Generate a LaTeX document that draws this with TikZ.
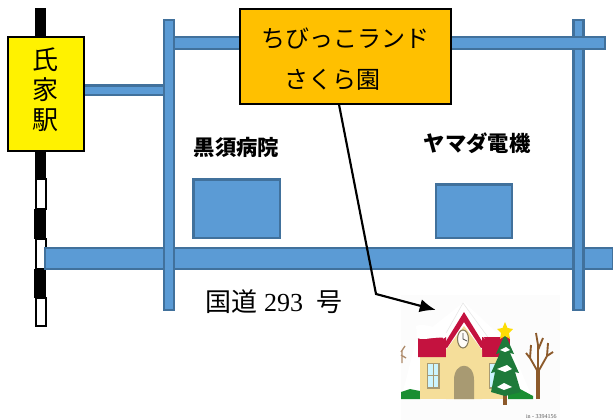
\documentclass[tikz,border=0pt]{standalone}
\usepackage{fontspec}
\setmainfont{Liberation Serif}
\newfontfamily\cjk{Noto Sans CJK JP}
\definecolor{road}{HTML}{5B9BD5}
\definecolor{roadedge}{HTML}{41719C}
\definecolor{orangebox}{HTML}{FFC000}
\definecolor{roofred}{HTML}{C4123F}
\definecolor{wallc}{HTML}{F5DE9A}
\definecolor{doorc}{HTML}{A89A72}
\definecolor{treeg}{HTML}{1E7A3A}
\definecolor{trunkc}{HTML}{8C5A2B}
\tikzset{
  roadbar/.style={fill=road,draw=roadedge,line width=1.6pt},
  stationbox/.style={draw=black,line width=0.8pt,fill=yellow,minimum width=57pt,minimum height=85.5pt,inner sep=0pt,align=center},
  nurserybox/.style={draw=black,line width=0.8pt,fill=orangebox,minimum width=158.25pt,minimum height=71.25pt,inner sep=0pt},
  labeltext/.style={inner sep=0pt,font=\cjk\bfseries\fontsize{16}{18}\selectfont},
  bigtext/.style={inner sep=0pt,font=\cjk\fontsize{18}{20}\selectfont},
  stationtext/.style={inner sep=0pt,font=\cjk\fontsize{19.5}{20}\selectfont},
  railwhite/.style={fill=white,draw=black,line width=1.6pt},
  arrowline/.style={draw=black,line width=1.6pt,-{Latex[length=12pt,width=10pt]}},
}
\usetikzlibrary{arrows.meta}
\begin{document}
\begin{tikzpicture}[x=0.75pt,y=-0.75pt]
\useasboundingbox (0,0) rectangle (613,420);
% railway
\foreach \a/\b in {179/209,239/269,298/326}{\draw[railwhite] (36,\a) rectangle (46,\b);}
\fill[black] (35,8) rectangle (46,40);
\fill[black] (35,150) rectangle (46,179);
\fill[black] (33.5,209) rectangle (46,239);
\fill[black] (33.5,269) rectangle (46,298);
% roads
\draw[roadbar] (45,248) rectangle (613,269);
\draw[roadbar] (573.5,20) rectangle (583.5,310);
\draw[roadbar] (173,37) rectangle (605,49);
\draw[roadbar] (84,85.5) rectangle (164,95);
\draw[roadbar] (164,20) rectangle (174,310);
\fill[white] (175,115) rectangle (192,168);
% buildings
\draw[roadbar] (193.5,179.5) rectangle (280,238);
\draw[roadbar] (436,184.5) rectangle (512,238);
% boxes
\node[stationbox] (station) at (46,94) {};
\node[stationtext] (l1) at (45.5,60) {氏};
\node[stationtext] (l2) at (45.5,90) {家};
\node[stationtext] (l3) at (45.5,120) {駅};
\node[nurserybox] (nursery) at (345.5,56.5) {};
\node[bigtext] (n1) at (345.5,38) {ちびっこランド};
\node[bigtext] (n2) at (332.5,80) {さくら園};
\node[labeltext] (hospital) at (236.5,147) {黒須病院};
\node[labeltext] (yamada) at (477,143) {ヤマダ電機};
\node[inner sep=0pt,font=\fontsize{19.5}{20}\selectfont] (route) at (274,302) {{\cjk 国道}\hspace{5pt}293\hspace{10pt}{\cjk 号}};
% picture of the nursery
\fill[white!99!black] (401,295) rectangle (560,420);
\node[inner sep=0pt,minimum size=0pt] (house) at (436,310) {};
\coordinate (bend) at (376,294);
% left tree fragment
\draw[trunkc!70,line width=1pt] (401,352) -- (405,346) (401,355) -- (406,358) (402,350) -- (402,363);
% snow halo
\fill[white] (416,340) -- (464,302) -- (510,345) -- (533,399) -- (401,399) -- cycle;
\draw[black!10,line width=0.4pt] (417,339) -- (445,335) -- (463,303) -- (490,340);
% grass
\fill[treeg!85!green] (401,392) -- (410,389) -- (420,391) -- (420,399) -- (401,399) -- cycle;
\fill[treeg!85!green] (508,391) -- (520,389) -- (533,396) -- (533,399) -- (508,399) -- cycle;
% walls
\fill[wallc] (420,355) rectangle (503,399);
% roofs
\fill[roofred] (418,338) -- (446,337) -- (446,357) -- (418,357) -- cycle;
\fill[roofred] (482,337) -- (510,337) -- (510,357) -- (482,357) -- cycle;
\fill[white] (416,326) .. controls (425,322) and (440,330) .. (447,333) -- (445,338) .. controls (435,336) and (425,341) .. (417,338) -- cycle;
\fill[wallc] (446,350) -- (464,326) -- (482,350) -- (482,399) -- (446,399) -- cycle;
\fill[white] (443,339) -- (464,308) -- (485,339) -- (464,318) -- cycle;
\fill[roofred] (443,346) -- (464,312) -- (485,346) -- (481,348) -- (464,322) -- (447,348) -- cycle;
% clock
\draw[doorc!80!black,fill=white!92!wallc,line width=0.8pt] (463,339) ellipse (5.5 and 9);
\draw[black!70,line width=0.6pt] (463,333) -- (463,339) -- (467,341);
% door
\fill[doorc] (454,399) -- (454,380) .. controls (454,361) and (474,361) .. (474,380) -- (474,399) -- cycle;
% windows
\draw[doorc,fill=blue!20!cyan!20,line width=1pt] (427.5,363.5) rectangle (439,388);
\draw[doorc,line width=0.7pt] (433,363.5) -- (433,388) (427.5,375) -- (439,375);
\draw[doorc,fill=blue!20!cyan!20,line width=1pt] (489.5,363.5) rectangle (500,388);
% fir
\draw[trunkc,line width=3pt] (505,385) -- (505,405);
\fill[treeg] (505,334) -- (514,354) -- (510,353) -- (519,373) -- (515,372) -- (521,392) -- (505,396) -- (491,392) -- (495,372) -- (491,373) -- (500,353) -- (496,354) -- cycle;
\fill[white] (497,369) -- (507,365) -- (512,369) -- (505,372) -- cycle;
\fill[white] (500,350) -- (506,347) -- (510,350) -- (505,352) -- cycle;
\fill[white] (497,387) -- (504,383) -- (512,387) -- (504,390) -- cycle;
\fill[yellow!80!orange] (505,322) -- (507.5,328) -- (513,329) -- (509,333) -- (510,339) -- (505,336) -- (500,339) -- (501,333) -- (497,329) -- (502.5,328) -- cycle;
% bare tree
\draw[trunkc,line width=3.5pt] (538,399) -- (538,370);
\draw[trunkc,line width=1.4pt] (538,372) -- (530,358) -- (526,353) (530,358) -- (531,345) (538,372) -- (538,345) -- (536,333) (538,350) -- (543,338) (538,372) -- (547,356) -- (553,352) (547,356) -- (548,343);
\node[inner sep=0pt,anchor=east,text=black!65,font=\fontsize{4.5}{5}\selectfont] (credit) at (557,417) {in - 3394156};
\draw[arrowline] (nursery.south -| 339,0) -- (bend) -- (house);
\end{tikzpicture}
\end{document}
